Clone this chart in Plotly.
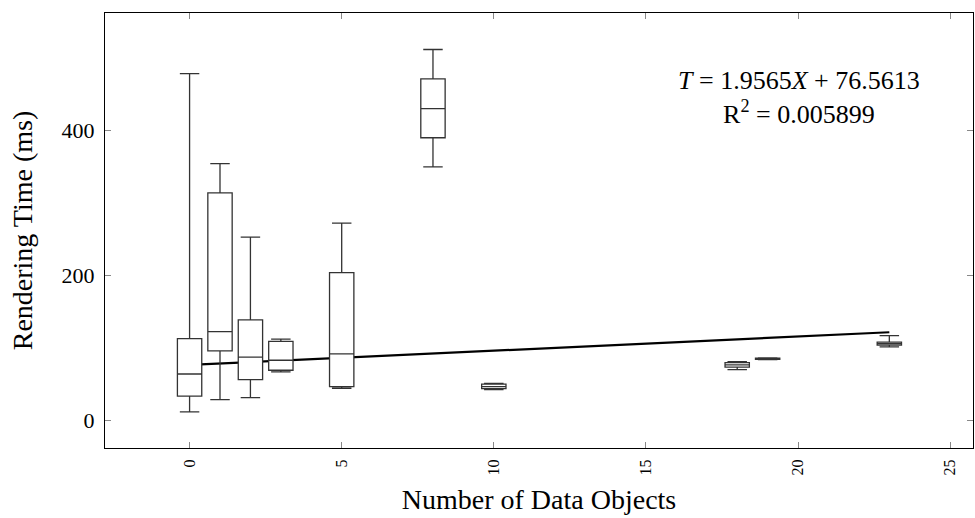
import plotly.graph_objects as go

# Number of data objects (box positions)
positions = [0, 1, 2, 3, 5, 8, 10, 18, 19, 23]
lower_whisker = [11.7, 28.7, 31.4, 66.9, 44.4, 349.7, 42.5, 70.0, 83.8, 101.4]
q1_vals = [33.4, 95.9, 56.3, 69.2, 46.6, 389.7, 43.9, 73.4, 84.3, 103.7]
median_vals = [64.0, 122.5, 87.2, 83.0, 91.7, 430.0, 46.5, 76.6, 85.0, 106.0]
q3_vals = [112.8, 313.8, 138.6, 109.0, 203.9, 471.0, 50.0, 79.7, 85.7, 107.9]
upper_whisker = [478.0, 354.0, 252.7, 112.0, 272.0, 511.4, 51.0, 81.0, 86.2, 117.0]

slope = 1.9565
intercept = 76.5613
r_squared = 0.005899
line_x = [0, 23]

x_ticks = [0, 5, 10, 15, 20, 25]
y_ticks = [0, 200, 400]

FONT = "Liberation Serif"
SP = "&nbsp;"

fig = go.Figure()

fig.add_trace(go.Box(
    x=positions,
    q1=q1_vals,
    median=median_vals,
    q3=q3_vals,
    lowerfence=lower_whisker,
    upperfence=upper_whisker,
    width=0.8,
    whiskerwidth=0.8,
    fillcolor="white",
    line=dict(color="#333333", width=1.3),
    boxpoints=False,
    showlegend=False,
    hoverinfo="skip",
))

# regression line drawn beneath the boxes
fig.add_shape(
    type="line", xref="x", yref="y", layer="below",
    x0=line_x[0], x1=line_x[1],
    y0=slope * line_x[0] + intercept, y1=slope * line_x[1] + intercept,
    line=dict(color="black", width=2.2),
)

fig.add_annotation(
    x=0.7995, y=0.805, xref="paper", yref="paper",
    text=(f"<i>T</i>{SP}={SP}{slope}<i>X</i>{SP}+{SP}{intercept}"
          f"<br>R<sup>2</sup>{SP}={SP}{r_squared}"),
    showarrow=False,
    xanchor="center", yanchor="middle", align="center",
    font=dict(family=FONT, size=26, color="black"),
)

fig.update_layout(
    width=975, height=518,
    margin=dict(l=105, r=2, t=13, b=70, autoexpand=False),
    paper_bgcolor="white",
    plot_bgcolor="white",
    font=dict(family=FONT, color="black"),
    xaxis=dict(
        range=[-2.78, 25.75],
        tickvals=x_ticks,
        tickangle=-90,
        tickfont=dict(size=16),
        ticks="inside", ticklen=6, tickcolor="#888888",
        showline=True, linecolor="black", linewidth=1.2, mirror="allticks",
        showgrid=False, zeroline=False, automargin=False,
        ticklabelstandoff=4,
        title=dict(text="Number of Data Objects", font=dict(size=28), standoff=14),
    ),
    yaxis=dict(
        range=[-38, 561.7],
        tickvals=y_ticks,
        tickfont=dict(size=22),
        ticks="inside", ticklen=6, tickcolor="#888888",
        showline=True, linecolor="black", linewidth=1.2, mirror="allticks",
        showgrid=False, zeroline=False, automargin=False,
        ticklabelstandoff=5,
        title=dict(text="Rendering Time (ms)", font=dict(size=28), standoff=20),
    ),
)

fig.write_html(
    "out.html",
    config={"displayModeBar": False},
    post_script="document.documentElement.style.margin='0';"
                "document.body.style.margin='0';"
                "document.body.style.overflow='hidden';",
)
